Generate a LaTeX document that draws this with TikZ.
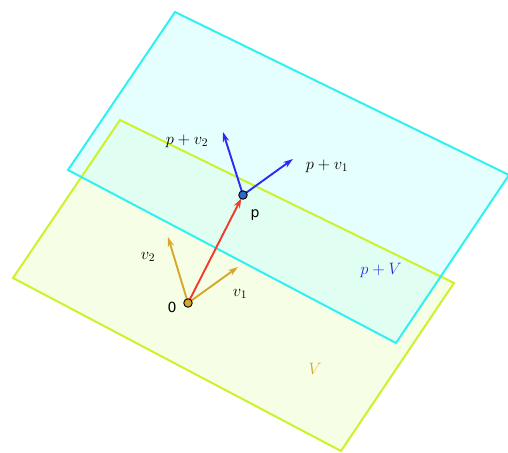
\documentclass[tikz,border=0pt]{standalone}
\usepackage{fix-cm}
\usepackage{fontspec}
\newfontfamily\dejavu{DejaVu Sans}
\usetikzlibrary{arrows.meta}
\definecolor{limeline}{HTML}{CCF22C}
\definecolor{limefill}{HTML}{F6FFE6}
\definecolor{cyanline}{HTML}{30F0F0}
\definecolor{cyanfill}{HTML}{CCFFFF}
\definecolor{gold}{HTML}{D4A82A}
\definecolor{redv}{HTML}{F03A2A}
\definecolor{bluev}{HTML}{2A2AF0}
\definecolor{dotblue}{HTML}{2A6AC8}
\tikzset{
  vec/.style={line width=1.9pt, -{Stealth[length=10pt,width=6.5pt]}},
  plane/.style={line width=2pt, line join=miter},
  dot/.style={circle, draw=black, line width=0.9pt, inner sep=0pt, minimum size=8.5pt},
  mlab/.style={font=\fontsize{16.5}{19}\selectfont, inner sep=1pt},
  slab/.style={font=\dejavu\fontsize{14}{16}\selectfont, inner sep=1pt}
}
\begin{document}
\begin{tikzpicture}[x=1pt,y=-1pt]
\useasboundingbox (0,0) rectangle (508,452);
% plane V
\fill[limefill] (120,120) -- (454,283) -- (341,451) -- (13,278) -- cycle;
% plane p+V
\fill[cyanfill, opacity=0.5] (175,12) -- (509,175) -- (396,343) -- (68,170) -- cycle;
\draw[plane, limeline] (120,120) -- (454,283) -- (341,451) -- (13,278) -- cycle;
\draw[plane, cyanline] (175,12) -- (509,175) -- (396,343) -- (68,170) -- cycle;
% points
\coordinate (o) at (188,303);
\coordinate (p) at (243,195);
\coordinate (v1) at (238,267);
\coordinate (v2) at (168,237);
\coordinate (pv1) at (293,159);
\coordinate (pv2) at (223,132);
\draw[vec, gold] (o) -- (v1);
\draw[vec, gold] (o) -- (v2);
\draw[vec, redv, shorten >=3.5pt] (o) -- (p);
\draw[vec, bluev] (p) -- (pv1);
\draw[vec, bluev] (p) -- (pv2);
\node[dot, fill=gold] (odot) at (o) {};
\node[dot, fill=dotblue] (pdot) at (p) {};
% labels
\node[slab] (l0) at (172,307) {0};
\node[slab] (lp) at (255,215) {p};
\node[mlab] (lv1) at (240,294) {$v_1$};
\node[mlab] (lv2) at (148,257) {$v_2$};
\node[mlab] (lpv1) at (327,166) {$p+v_1$};
\node[mlab] (lpv2) at (187,141) {$p+v_2$};
\node[mlab, text=bluev] (lpV) at (381,270) {$p+V$};
\node[mlab, text=gold] (lV) at (315,369) {$V$};
\end{tikzpicture}
\end{document}
